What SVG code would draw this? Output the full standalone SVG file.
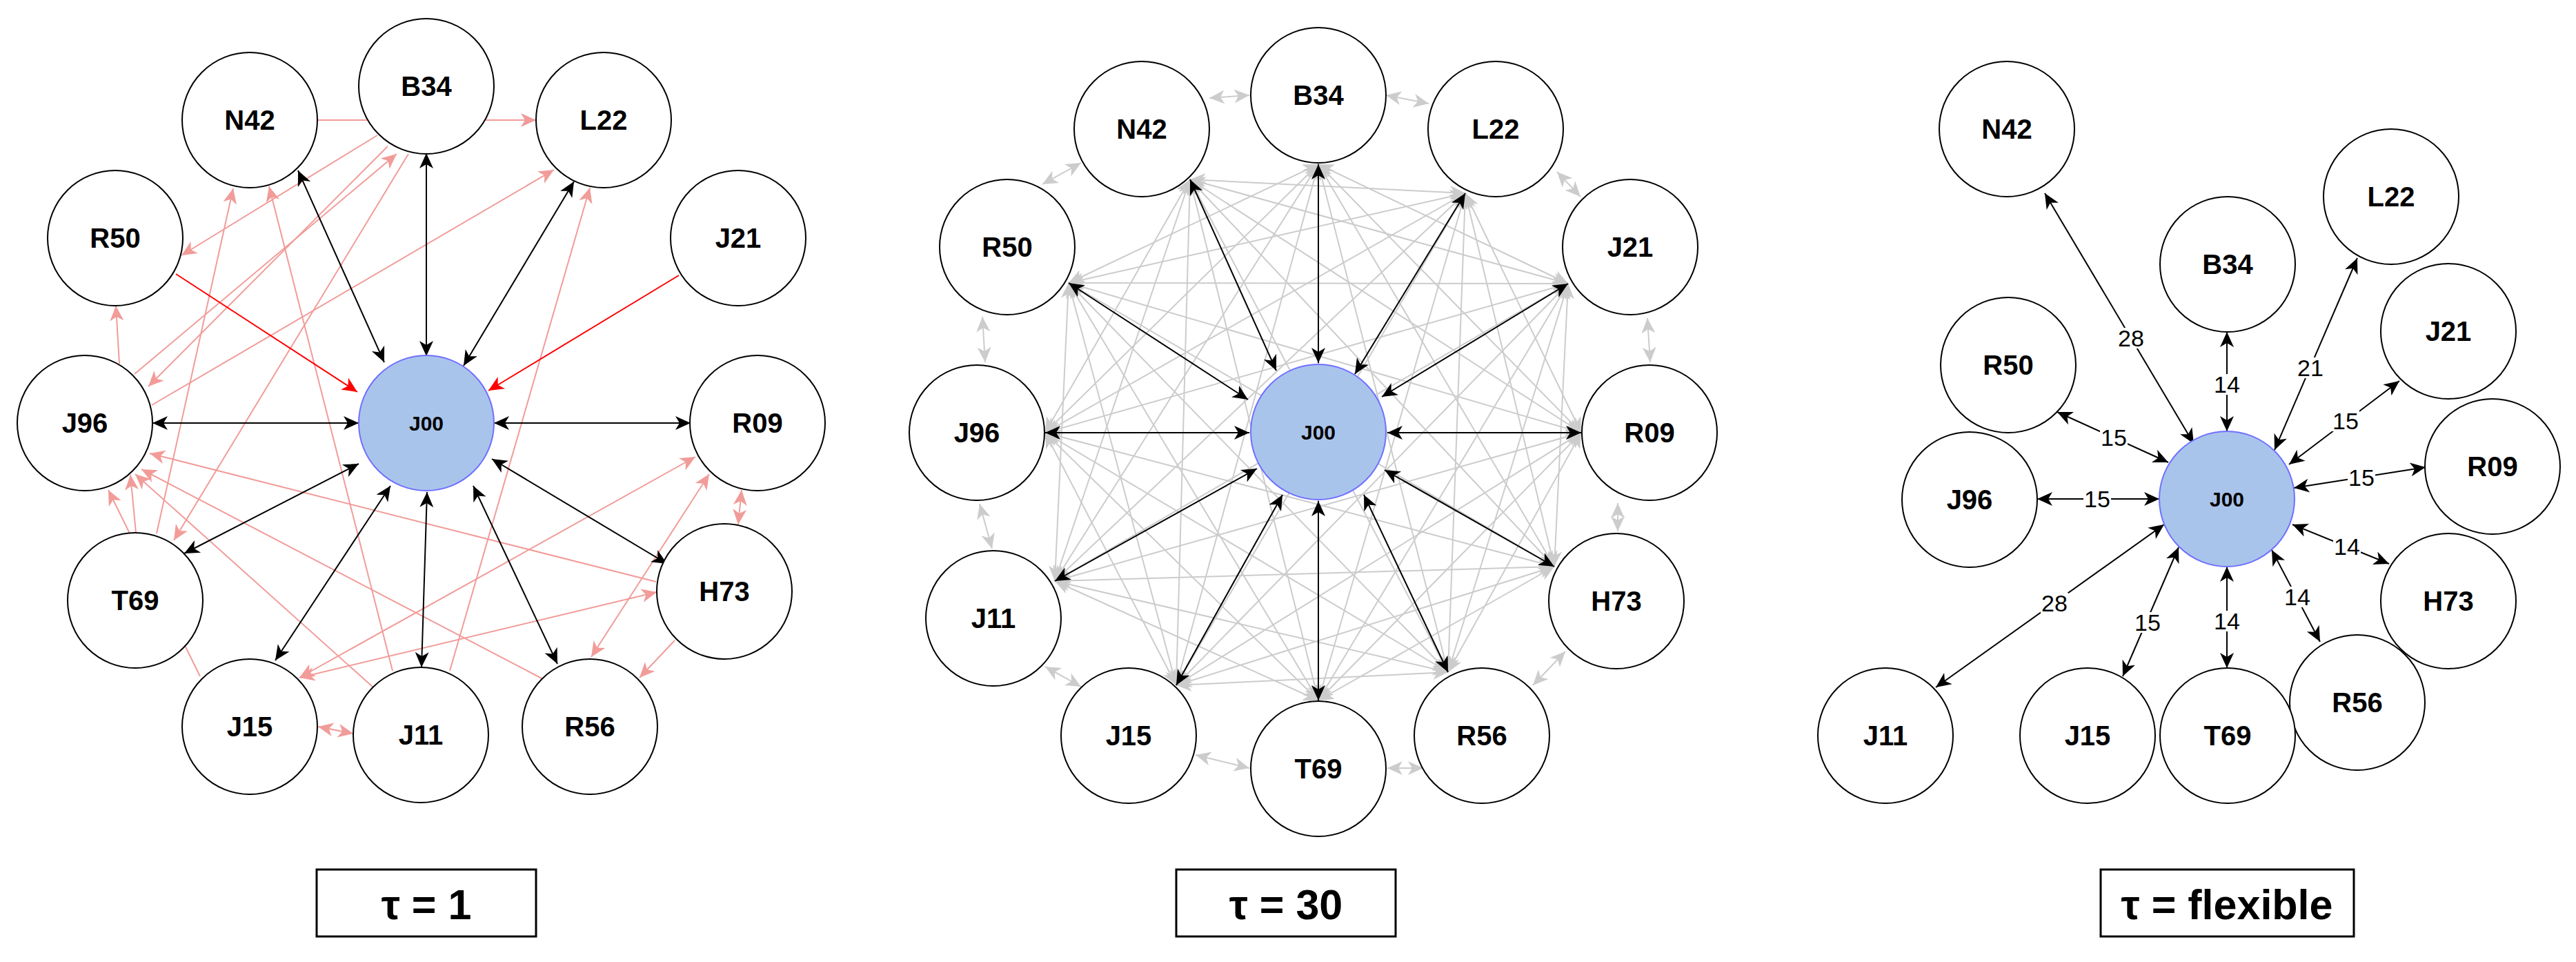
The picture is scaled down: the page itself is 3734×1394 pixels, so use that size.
<svg xmlns="http://www.w3.org/2000/svg" width="3734" height="1394" viewBox="0 0 3734 1394">
<style>
.n circle{fill:#fff;stroke:#000;stroke-width:2}
.n text{font-family:"Liberation Sans",Arial,sans-serif;font-weight:bold;font-size:40px;text-anchor:middle;fill:#000}
.c0 circle{fill:#A9C4EB;stroke:#7070FF;stroke-width:2}
.c0 text{font-size:30px}
.blk{stroke:#000;stroke-width:2;fill:none;marker-start:url(#ab);marker-end:url(#ab)}
.pk{stroke:#F19C99;stroke-width:2;fill:none;marker-end:url(#ap)}
.pk2{stroke:#F19C99;stroke-width:2;fill:none;marker-start:url(#ap);marker-end:url(#ap)}
.rd{stroke:#FF0000;stroke-width:2;fill:none;marker-end:url(#ar)}
.gy{stroke:#CCCCCC;stroke-width:2;fill:none;marker-start:url(#ag);marker-end:url(#ag)}
.num{font-family:"Liberation Sans",Arial,sans-serif;font-size:34px;text-anchor:middle;fill:#000}
.lb{fill:#fff}
.box{fill:#fff;stroke:#000;stroke-width:3}
.cap{font-family:"Liberation Sans",Arial,sans-serif;font-weight:bold;font-size:61px;text-anchor:middle;fill:#000}
</style>
<defs>
<marker id="ab" viewBox="-23 -11 24 22" refX="0" refY="0" markerWidth="24" markerHeight="22" markerUnits="userSpaceOnUse" orient="auto-start-reverse"><path d="M0,0 L-22,-10 L-16,0 L-22,10 Z" fill="#000"/></marker>
<marker id="ap" viewBox="-23 -11 24 22" refX="0" refY="0" markerWidth="24" markerHeight="22" markerUnits="userSpaceOnUse" orient="auto-start-reverse"><path d="M0,0 L-22,-10 L-16,0 L-22,10 Z" fill="#F19C99"/></marker>
<marker id="ar" viewBox="-23 -11 24 22" refX="0" refY="0" markerWidth="24" markerHeight="22" markerUnits="userSpaceOnUse" orient="auto-start-reverse"><path d="M0,0 L-22,-10 L-16,0 L-22,10 Z" fill="#FF0000"/></marker>
<marker id="ag" viewBox="-23 -11 24 22" refX="0" refY="0" markerWidth="24" markerHeight="22" markerUnits="userSpaceOnUse" orient="auto-start-reverse"><path d="M0,0 L-22,-10 L-16,0 L-22,10 Z" fill="#CCCCCC"/></marker>
</defs>
<rect width="3734" height="1394" fill="#fff"/>

<g id="connectors">
<!-- Panel 1 pink -->
<line class="pk" x1="460" y1="174" x2="777" y2="174"/>
<line class="pk" x1="547" y1="196" x2="263" y2="370"/>
<line class="pk" x1="195" y1="542" x2="575" y2="223"/>
<line class="pk" x1="562" y1="212" x2="215" y2="560"/>
<line class="pk" x1="592" y1="223" x2="252" y2="783"/>
<line class="pk" x1="220" y1="587" x2="803" y2="246"/>
<line class="pk" x1="227" y1="773" x2="338" y2="273"/>
<line class="pk" x1="569" y1="972" x2="390" y2="270"/>
<line class="pk" x1="173" y1="527" x2="168" y2="443"/>
<line class="pk" x1="197" y1="772" x2="189" y2="688"/>
<line class="pk" x1="290" y1="980" x2="157" y2="710"/>
<line class="pk" x1="951" y1="843" x2="217" y2="657"/>
<line class="pk" x1="787" y1="984" x2="205" y2="680"/>
<line class="pk" x1="541" y1="996" x2="196" y2="687"/>
<line class="pk" x1="652" y1="972" x2="855" y2="272"/>
<line class="pk2" x1="434" y1="982" x2="1008" y2="662"/>
<line class="pk2" x1="434" y1="982" x2="952" y2="858"/>
<line class="pk2" x1="857" y1="952" x2="1028" y2="687"/>
<line class="pk2" x1="1075" y1="710" x2="1070" y2="760"/>
<line class="pk" x1="978" y1="928" x2="927" y2="982"/>
<line class="pk2" x1="461" y1="1053" x2="512" y2="1063"/>
<!-- Panel 1 red -->
<line class="rd" x1="255" y1="397" x2="518" y2="568"/>
<line class="rd" x1="984" y1="399" x2="708" y2="566"/>
<!-- Panel 1 black -->
<line class="blk" x1="432" y1="247" x2="557" y2="525"/>
<line class="blk" x1="618" y1="222" x2="618" y2="516"/>
<line class="blk" x1="832" y1="263" x2="672" y2="530"/>
<line class="blk" x1="221" y1="613" x2="520" y2="613"/>
<line class="blk" x1="716" y1="613" x2="1001" y2="613"/>
<line class="blk" x1="713" y1="665" x2="967" y2="817"/>
<line class="blk" x1="686" y1="704" x2="808" y2="962"/>
<line class="blk" x1="619" y1="713" x2="611" y2="967"/>
<line class="blk" x1="566" y1="704" x2="399" y2="957"/>
<line class="blk" x1="520" y1="672" x2="267" y2="802"/>

<!-- Panel 2 gray adjacent -->
<line class="gy" x1="1753" y1="142" x2="1811" y2="138"/>
<line class="gy" x1="2009" y1="138" x2="2071" y2="150"/>
<line class="gy" x1="2257" y1="249" x2="2291" y2="285"/>
<line class="gy" x1="2388" y1="461" x2="2392" y2="525"/>
<line class="gy" x1="2345" y1="729" x2="2345" y2="770"/>
<line class="gy" x1="2269" y1="944" x2="2222" y2="993"/>
<line class="gy" x1="2063" y1="1113" x2="2011" y2="1113"/>
<line class="gy" x1="1811" y1="1113" x2="1733" y2="1094"/>
<line class="gy" x1="1567" y1="995" x2="1515" y2="966"/>
<line class="gy" x1="1438" y1="795" x2="1420" y2="730"/>
<line class="gy" x1="1428" y1="525" x2="1424" y2="459"/>
<line class="gy" x1="1511" y1="267" x2="1567" y2="236"/>
<!-- Panel 2 gray non-adjacent -->
<line class="gy" x1="1911" y1="238" x2="2273" y2="411"/>
<line class="gy" x1="1911" y1="238" x2="2292" y2="627"/>
<line class="gy" x1="1911" y1="238" x2="2253" y2="821"/>
<line class="gy" x1="1911" y1="238" x2="2099" y2="974"/>
<line class="gy" x1="1911" y1="238" x2="1911" y2="1015"/>
<line class="gy" x1="1911" y1="238" x2="1705" y2="993"/>
<line class="gy" x1="1911" y1="238" x2="1529" y2="842"/>
<line class="gy" x1="1911" y1="238" x2="1515" y2="627"/>
<line class="gy" x1="1911" y1="238" x2="1549" y2="410"/>
<line class="gy" x1="2124" y1="280" x2="2292" y2="627"/>
<line class="gy" x1="2124" y1="280" x2="2253" y2="821"/>
<line class="gy" x1="2124" y1="280" x2="2099" y2="974"/>
<line class="gy" x1="2124" y1="280" x2="1911" y2="1015"/>
<line class="gy" x1="2124" y1="280" x2="1705" y2="993"/>
<line class="gy" x1="2124" y1="280" x2="1529" y2="842"/>
<line class="gy" x1="2124" y1="280" x2="1515" y2="627"/>
<line class="gy" x1="2124" y1="280" x2="1549" y2="410"/>
<line class="gy" x1="2124" y1="280" x2="1725" y2="260"/>
<line class="gy" x1="2273" y1="411" x2="2253" y2="821"/>
<line class="gy" x1="2273" y1="411" x2="2099" y2="974"/>
<line class="gy" x1="2273" y1="411" x2="1911" y2="1015"/>
<line class="gy" x1="2273" y1="411" x2="1705" y2="993"/>
<line class="gy" x1="2273" y1="411" x2="1529" y2="842"/>
<line class="gy" x1="2273" y1="411" x2="1515" y2="627"/>
<line class="gy" x1="2273" y1="411" x2="1549" y2="410"/>
<line class="gy" x1="2273" y1="411" x2="1725" y2="260"/>
<line class="gy" x1="2292" y1="627" x2="2099" y2="974"/>
<line class="gy" x1="2292" y1="627" x2="1911" y2="1015"/>
<line class="gy" x1="2292" y1="627" x2="1705" y2="993"/>
<line class="gy" x1="2292" y1="627" x2="1529" y2="842"/>
<line class="gy" x1="2292" y1="627" x2="1515" y2="627"/>
<line class="gy" x1="2292" y1="627" x2="1549" y2="410"/>
<line class="gy" x1="2292" y1="627" x2="1725" y2="260"/>
<line class="gy" x1="2253" y1="821" x2="1911" y2="1015"/>
<line class="gy" x1="2253" y1="821" x2="1705" y2="993"/>
<line class="gy" x1="2253" y1="821" x2="1529" y2="842"/>
<line class="gy" x1="2253" y1="821" x2="1515" y2="627"/>
<line class="gy" x1="2253" y1="821" x2="1549" y2="410"/>
<line class="gy" x1="2253" y1="821" x2="1725" y2="260"/>
<line class="gy" x1="2099" y1="974" x2="1705" y2="993"/>
<line class="gy" x1="2099" y1="974" x2="1529" y2="842"/>
<line class="gy" x1="2099" y1="974" x2="1515" y2="627"/>
<line class="gy" x1="2099" y1="974" x2="1549" y2="410"/>
<line class="gy" x1="2099" y1="974" x2="1725" y2="260"/>
<line class="gy" x1="1911" y1="1015" x2="1529" y2="842"/>
<line class="gy" x1="1911" y1="1015" x2="1515" y2="627"/>
<line class="gy" x1="1911" y1="1015" x2="1549" y2="410"/>
<line class="gy" x1="1911" y1="1015" x2="1725" y2="260"/>
<line class="gy" x1="1705" y1="993" x2="1515" y2="627"/>
<line class="gy" x1="1705" y1="993" x2="1549" y2="410"/>
<line class="gy" x1="1705" y1="993" x2="1725" y2="260"/>
<line class="gy" x1="1529" y1="842" x2="1549" y2="410"/>
<line class="gy" x1="1529" y1="842" x2="1725" y2="260"/>
<line class="gy" x1="1515" y1="627" x2="1725" y2="260"/>
<!-- Panel 2 black -->
<line class="blk" x1="1911" y1="238" x2="1911" y2="526"/>
<line class="blk" x1="1725" y1="260" x2="1850" y2="537"/>
<line class="blk" x1="2124" y1="280" x2="1964" y2="542"/>
<line class="blk" x1="1549" y1="410" x2="1809" y2="579"/>
<line class="blk" x1="2273" y1="411" x2="2003" y2="575"/>
<line class="blk" x1="1515" y1="627" x2="1811" y2="627"/>
<line class="blk" x1="2292" y1="627" x2="2011" y2="627"/>
<line class="blk" x1="1529" y1="842" x2="1822" y2="679"/>
<line class="blk" x1="2253" y1="821" x2="2007" y2="681"/>
<line class="blk" x1="1705" y1="993" x2="1859" y2="717"/>
<line class="blk" x1="1911" y1="1015" x2="1911" y2="726"/>
<line class="blk" x1="2099" y1="974" x2="1977" y2="717"/>

<!-- Panel 3 black -->
<line class="blk" x1="2964" y1="280" x2="3180" y2="643"/>
<line class="blk" x1="3228" y1="481" x2="3228" y2="625"/>
<line class="blk" x1="3417" y1="374" x2="3297" y2="652"/>
<line class="blk" x1="3478" y1="552" x2="3318" y2="673"/>
<line class="blk" x1="3516" y1="677" x2="3325" y2="707"/>
<line class="blk" x1="3463" y1="817" x2="3323" y2="760"/>
<line class="blk" x1="3363" y1="930" x2="3293" y2="797"/>
<line class="blk" x1="3228" y1="968" x2="3228" y2="821"/>
<line class="blk" x1="3077" y1="980" x2="3158" y2="793"/>
<line class="blk" x1="2806" y1="996" x2="3137" y2="760"/>
<line class="blk" x1="2953" y1="723" x2="3130" y2="723"/>
<line class="blk" x1="2982" y1="597" x2="3143" y2="670"/>
<!-- Panel 3 labels -->
<g>
<rect class="lb" x="3069" y="475" width="40" height="30"/><text class="num" x="3089" y="502">28</text>
<rect class="lb" x="3208" y="542" width="40" height="30"/><text class="num" x="3228" y="569">14</text>
<rect class="lb" x="3329" y="518" width="40" height="30"/><text class="num" x="3349" y="545">21</text>
<rect class="lb" x="3380" y="595" width="40" height="30"/><text class="num" x="3400" y="622">15</text>
<rect class="lb" x="3403" y="677" width="40" height="30"/><text class="num" x="3423" y="704">15</text>
<rect class="lb" x="3382" y="777" width="40" height="30"/><text class="num" x="3402" y="804">14</text>
<rect class="lb" x="3310" y="850" width="40" height="30"/><text class="num" x="3330" y="877">14</text>
<rect class="lb" x="3208" y="885" width="40" height="30"/><text class="num" x="3228" y="912">14</text>
<rect class="lb" x="3093" y="887" width="40" height="30"/><text class="num" x="3113" y="914">15</text>
<rect class="lb" x="2958" y="859" width="40" height="30"/><text class="num" x="2978" y="886">28</text>
<rect class="lb" x="3020" y="708" width="40" height="30"/><text class="num" x="3040" y="735">15</text>
<rect class="lb" x="3044" y="619" width="40" height="30"/><text class="num" x="3064" y="646">15</text>
</g>
</g>

<!-- Panel 1 nodes -->
<g id="p1-J00" class="n c0"><circle cx="618" cy="613" r="98"/><text x="618" y="624">J00</text></g>
<g id="p1-B34" class="n"><circle cx="618" cy="125" r="98"/><text x="618" y="139">B34</text></g>
<g id="p1-N42" class="n"><circle cx="362" cy="174" r="98"/><text x="362" y="188">N42</text></g>
<g id="p1-L22" class="n"><circle cx="875" cy="174" r="98"/><text x="875" y="188">L22</text></g>
<g id="p1-R50" class="n"><circle cx="167" cy="345" r="98"/><text x="167" y="359">R50</text></g>
<g id="p1-J21" class="n"><circle cx="1070" cy="345" r="98"/><text x="1070" y="359">J21</text></g>
<g id="p1-J96" class="n"><circle cx="123" cy="613" r="98"/><text x="123" y="627">J96</text></g>
<g id="p1-R09" class="n"><circle cx="1098" cy="613" r="98"/><text x="1098" y="627">R09</text></g>
<g id="p1-T69" class="n"><circle cx="196" cy="870" r="98"/><text x="196" y="884">T69</text></g>
<g id="p1-H73" class="n"><circle cx="1050" cy="857" r="98"/><text x="1050" y="871">H73</text></g>
<g id="p1-J15" class="n"><circle cx="362" cy="1053" r="98"/><text x="362" y="1067">J15</text></g>
<g id="p1-J11" class="n"><circle cx="610" cy="1065" r="98"/><text x="610" y="1079">J11</text></g>
<g id="p1-R56" class="n"><circle cx="855" cy="1053" r="98"/><text x="855" y="1067">R56</text></g>

<!-- Panel 2 nodes -->
<g id="p2-J00" class="n c0"><circle cx="1911" cy="626" r="98"/><text x="1911" y="637">J00</text></g>
<g id="p2-B34" class="n"><circle cx="1911" cy="138" r="98"/><text x="1911" y="152">B34</text></g>
<g id="p2-N42" class="n"><circle cx="1655" cy="187" r="98"/><text x="1655" y="201">N42</text></g>
<g id="p2-L22" class="n"><circle cx="2168" cy="187" r="98"/><text x="2168" y="201">L22</text></g>
<g id="p2-R50" class="n"><circle cx="1460" cy="358" r="98"/><text x="1460" y="372">R50</text></g>
<g id="p2-J21" class="n"><circle cx="2363" cy="358" r="98"/><text x="2363" y="372">J21</text></g>
<g id="p2-J96" class="n"><circle cx="1416" cy="627" r="98"/><text x="1416" y="641">J96</text></g>
<g id="p2-R09" class="n"><circle cx="2391" cy="627" r="98"/><text x="2391" y="641">R09</text></g>
<g id="p2-J11" class="n"><circle cx="1440" cy="896" r="98"/><text x="1440" y="910">J11</text></g>
<g id="p2-H73" class="n"><circle cx="2343" cy="871" r="98"/><text x="2343" y="885">H73</text></g>
<g id="p2-J15" class="n"><circle cx="1636" cy="1066" r="98"/><text x="1636" y="1080">J15</text></g>
<g id="p2-T69" class="n"><circle cx="1911" cy="1114" r="98"/><text x="1911" y="1128">T69</text></g>
<g id="p2-R56" class="n"><circle cx="2148" cy="1066" r="98"/><text x="2148" y="1080">R56</text></g>

<!-- Panel 3 nodes -->
<g id="p3-J00" class="n c0"><circle cx="3228" cy="723" r="98"/><text x="3228" y="734">J00</text></g>
<g id="p3-N42" class="n"><circle cx="2909" cy="187" r="98"/><text x="2909" y="201">N42</text></g>
<g id="p3-B34" class="n"><circle cx="3229" cy="383" r="98"/><text x="3229" y="397">B34</text></g>
<g id="p3-L22" class="n"><circle cx="3466" cy="285" r="98"/><text x="3466" y="299">L22</text></g>
<g id="p3-R50" class="n"><circle cx="2911" cy="529" r="98"/><text x="2911" y="543">R50</text></g>
<g id="p3-J21" class="n"><circle cx="3549" cy="480" r="98"/><text x="3549" y="494">J21</text></g>
<g id="p3-J96" class="n"><circle cx="2855" cy="724" r="98"/><text x="2855" y="738">J96</text></g>
<g id="p3-R09" class="n"><circle cx="3613" cy="676" r="98"/><text x="3613" y="690">R09</text></g>
<g id="p3-H73" class="n"><circle cx="3549" cy="871" r="98"/><text x="3549" y="885">H73</text></g>
<g id="p3-R56" class="n"><circle cx="3417" cy="1018" r="98"/><text x="3417" y="1032">R56</text></g>
<g id="p3-J11" class="n"><circle cx="2733" cy="1066" r="98"/><text x="2733" y="1080">J11</text></g>
<g id="p3-J15" class="n"><circle cx="3026" cy="1066" r="98"/><text x="3026" y="1080">J15</text></g>
<g id="p3-T69" class="n"><circle cx="3229" cy="1066" r="98"/><text x="3229" y="1080">T69</text></g>

<!-- Captions -->
<g id="cap1"><rect class="box" x="459" y="1260" width="318" height="97"/><text class="cap" x="618" y="1332">τ = 1</text></g>
<g id="cap2"><rect class="box" x="1705" y="1260" width="318" height="97"/><text class="cap" x="1864" y="1332">τ = 30</text></g>
<g id="cap3"><rect class="box" x="3045" y="1260" width="367" height="97"/><text class="cap" x="3228" y="1332">τ = flexible</text></g>
</svg>
